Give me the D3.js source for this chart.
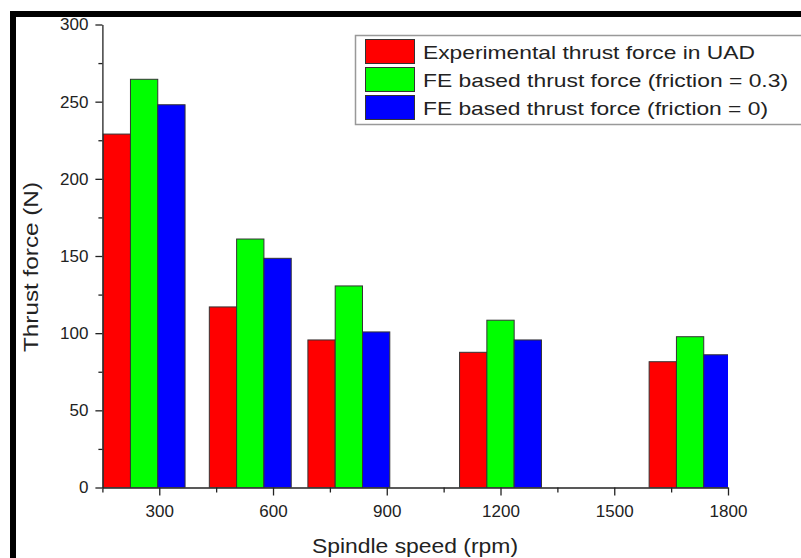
<!DOCTYPE html>
<html>
<head>
<meta charset="utf-8">
<script src="https://cdn.jsdelivr.net/npm/d3@7"></script>
<style>
  html, body { margin: 0; padding: 0; background: #fff; }
  svg { display: block; font-family: "Liberation Sans", Arial, sans-serif; }
</style>
</head>
<body>
<svg id="chart" width="801" height="558"></svg>
<script>
// ---- data ----
const speeds = [260, 540, 800, 1200, 1700];           // bar-group positions (rpm)
const experimental = [229, 117, 95.6, 87.6, 81.5];     // Experimental thrust force in UAD
const feFriction03 = [264.5, 161, 130.6, 108.4, 97.7]; // FE based (friction = 0.3)
const feFriction0 = [248, 148.5, 100.8, 95.6, 86];     // FE based (friction = 0)
const seriesNames = [
  "Experimental thrust force in UAD",
  "FE based thrust force (friction = 0.3)",
  "FE based thrust force (friction = 0)"
];
const seriesColors = ["#ff0000", "#00ff00", "#0000ff"];
const xTickValues = [300, 600, 900, 1200, 1500, 1800];
const xMinorTicks = [150, 450, 750, 1050, 1350, 1650];
const yTickValues = [0, 50, 100, 150, 200, 250, 300];
const yMinorTicks = [25, 75, 125, 175, 225, 275];
const barWidth = 72; // in rpm units

const svg = d3.select("#chart");
svg.append("rect").attr("width", 801).attr("height", 558).attr("fill", "#fff");

// frame (black border top and left)
svg.append("rect").attr("x", 10).attr("y", 11).attr("width", 800).attr("height", 6).attr("fill", "#000");
svg.append("rect").attr("x", 10).attr("y", 11).attr("width", 6).attr("height", 560).attr("fill", "#000");

const x = d3.scaleLinear().domain([150, 1800]).range([102.4, 728]);
const y = d3.scaleLinear().domain([0, 300]).range([487.5, 24.5]);

svg.append("defs").append("clipPath").attr("id", "plotclip")
  .append("rect").attr("x", x(150)).attr("y", y(300)).attr("width", x(1800) - x(150)).attr("height", y(0) - y(300));

const series = [experimental, feFriction03, feFriction0];
const bars = svg.append("g").attr("clip-path", "url(#plotclip)");
series.forEach((vals, si) => {
  bars.selectAll(null).data(vals.map((v, i) => ({ v, s: speeds[i] })))
    .enter().append("rect")
    .attr("x", d => x(d.s + (si - 1) * barWidth - barWidth / 2))
    .attr("width", d => x(d.s + barWidth / 2) - x(d.s - barWidth / 2))
    .attr("y", d => y(d.v))
    .attr("height", d => y(0) - y(d.v))
    .attr("fill", seriesColors[si])
    .attr("stroke", "#333")
    .attr("stroke-width", 1);
});

// axes
const axisColor = "#222";
const textColor = "#222";
function styleAxis(g) {
  g.selectAll("path,line").attr("stroke", axisColor).attr("stroke-width", 1.3);
  g.selectAll("text").attr("fill", textColor).style("font-size", "17px")
    .style("font-family", "'Liberation Sans', Arial, sans-serif");
}
const yAxis = svg.append("g").attr("transform", `translate(${x(150)},0)`)
  .call(d3.axisLeft(y).tickValues(yTickValues).tickSize(7).tickSizeOuter(0).tickPadding(7).tickFormat(d3.format("d")));
styleAxis(yAxis);
const yMinor = svg.append("g").attr("transform", `translate(${x(150)},0)`)
  .call(d3.axisLeft(y).tickValues(yMinorTicks).tickSize(4).tickFormat(""));
yMinor.select(".domain").remove();
styleAxis(yMinor);

const xAxis = svg.append("g").attr("transform", `translate(0,${y(0)})`)
  .call(d3.axisBottom(x).tickValues(xTickValues).tickSize(8).tickSizeOuter(0).tickPadding(9).tickFormat(d3.format("d")));
styleAxis(xAxis);
const xMinor = svg.append("g").attr("transform", `translate(0,${y(0)})`)
  .call(d3.axisBottom(x).tickValues(xMinorTicks).tickSize(5).tickFormat(""));
xMinor.select(".domain").remove();
styleAxis(xMinor);

// axis titles
svg.append("text")
  .attr("x", 415).attr("y", 553)
  .attr("text-anchor", "middle").attr("fill", textColor)
  .style("font-size", "21px")
  .attr("textLength", 206).attr("lengthAdjust", "spacingAndGlyphs")
  .text("Spindle speed (rpm)");
svg.append("text")
  .attr("transform", "translate(38,267) rotate(-90)")
  .attr("text-anchor", "middle").attr("fill", textColor)
  .style("font-size", "20px")
  .attr("textLength", 170).attr("lengthAdjust", "spacingAndGlyphs")
  .text("Thrust force (N)");

// legend
const legend = svg.append("g");
legend.append("rect").attr("x", 355.5).attr("y", 35.5).attr("width", 470).attr("height", 89)
  .attr("fill", "#fff").attr("stroke", "#999").attr("stroke-width", 1.5);
const legendLengths = [332, 365, 345];
seriesNames.forEach((name, i) => {
  const ry = 39.5 + i * 28;
  legend.append("rect").attr("x", 365.5).attr("y", ry).attr("width", 49).attr("height", 24)
    .attr("fill", seriesColors[i]).attr("stroke", "#333").attr("stroke-width", 1);
  legend.append("text").attr("x", 423).attr("y", ry + 19)
    .attr("fill", textColor).style("font-size", "19px")
    .attr("textLength", legendLengths[i]).attr("lengthAdjust", "spacingAndGlyphs")
    .text(name);
});
</script>
</body>
</html>
